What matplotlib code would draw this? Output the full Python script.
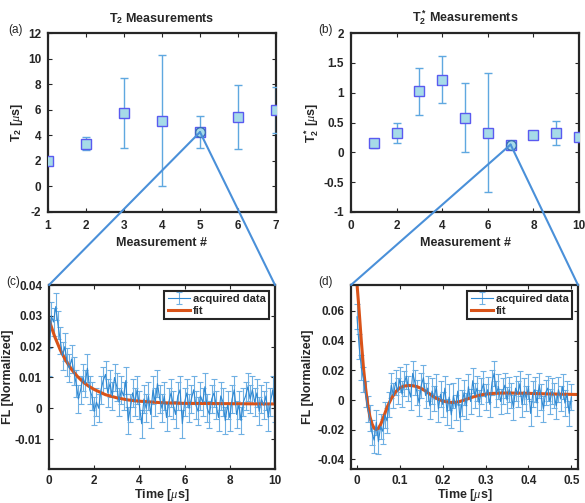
import numpy as np
import matplotlib
matplotlib.use('Agg')
import matplotlib.pyplot as plt
from matplotlib.patches import ConnectionPatch
from matplotlib.ticker import FormatStrFormatter

plt.rcParams['font.family'] = ['Liberation Sans', 'DejaVu Sans']
plt.rcParams['mathtext.fontset'] = 'custom'
plt.rcParams['mathtext.rm'] = 'Liberation Sans:bold'
plt.rcParams['mathtext.bf'] = 'Liberation Sans:bold'
plt.rcParams['mathtext.it'] = 'Liberation Serif:italic'

# ---- (a) T2 measurements
t2_meas = [1, 2, 3, 4, 5, 6, 7]
t2_vals = [2.0, 3.35, 5.75, 5.15, 4.25, 5.4, 6.0]
t2_err = [0.3, 0.5, 2.75, 5.15, 1.25, 2.5, 1.8]
t2_pick = 4  # index zoomed into panel (c)

# ---- (b) T2* measurements
t2s_meas = [1, 2, 3, 4, 5, 6, 7, 8, 9, 10]
t2s_vals = [0.15, 0.32, 1.02, 1.22, 0.58, 0.33, 0.13, 0.29, 0.33, 0.26]
t2s_err = [0.08, 0.17, 0.4, 0.4, 0.58, 1.0, 0.03, 0.07, 0.2, 0.05]
t2s_pick = 6  # index zoomed into panel (d)

# ---- (c) T2 trace, time in us
c_time = [round(0.1 * i, 1) for i in range(101)]
c_fl = [0.015, 0.030, 0.028, 0.033, 0.027, 0.022, 0.017, 0.020, 0.015, 0.013,
        0.016, 0.012, 0.008, 0.003, 0.006, 0.010, 0.008, 0.013, 0.006, 0.004,
        -0.001, 0.002, 0.000, 0.006, 0.009, 0.011, 0.005, 0.008, 0.004, 0.010,
        0.007, 0.002, 0.006, 0.004, 0.009, -0.004, 0.000, 0.005, 0.002, 0.006,
        0.001, -0.005, 0.003, 0.000, 0.004, -0.002, 0.006, 0.002, 0.008, 0.003,
        0.000, 0.004, -0.003, 0.002, 0.005, 0.001, -0.002, 0.004, 0.006, -0.005,
        0.002, 0.005, 0.000, 0.003, 0.006, 0.001, -0.001, 0.004, 0.002, 0.007,
        0.000, -0.002, 0.003, 0.005, 0.001, -0.003, 0.004, 0.002, -0.004, 0.001,
        -0.003, 0.003, 0.006, -0.002, 0.001, -0.004, 0.002, 0.004, 0.007, 0.003,
        0.006, 0.002, 0.005, -0.001, 0.003, 0.001, 0.004, -0.003, 0.002, 0.006,
        0.000]
c_err = 0.0045
c_fit_t = [0, 0.25, 0.5, 0.75, 1.0, 1.25, 1.5, 1.75, 2.0, 2.5, 3.0, 3.5, 4.0, 5.0, 6.0, 8.0, 10.0]
c_fit = [0.0287, 0.0233, 0.0189, 0.0154, 0.0126, 0.0104, 0.0086, 0.0072, 0.0061,
         0.0044, 0.0034, 0.0027, 0.0023, 0.0018, 0.0016, 0.0015, 0.0014]

# ---- (d) T2* trace, time in us
d_time = [round(0.005 * i, 3) for i in range(101)]
d_fl = [0.056, 0.036, 0.022, 0.014, 0.004, -0.006, -0.012, -0.022, -0.027, -0.015,
        -0.028, -0.018, -0.021, -0.010, -0.014, -0.003, 0.010, 0.003, 0.012, 0.006,
        0.014, 0.004, 0.011, 0.016, 0.008, 0.002, 0.018, 0.012, 0.005, -0.002,
        0.010, 0.015, 0.003, 0.008, -0.004, 0.006, 0.001, 0.009, -0.006, 0.004,
        -0.003, 0.008, -0.008, 0.002, -0.010, 0.003, -0.005, 0.006, -0.012, -0.002,
        0.005, -0.004, 0.009, -0.001, 0.013, 0.003, 0.008, -0.002, 0.006, 0.011,
        0.002, 0.007, -0.003, 0.012, 0.018, 0.004, 0.009, -0.001, 0.006, 0.010,
        0.000, 0.007, 0.003, -0.005, 0.008, 0.004, 0.011, -0.003, 0.006, 0.001,
        0.009, -0.009, 0.004, 0.007, -0.002, 0.010, 0.002, -0.006, 0.005, 0.008,
        -0.001, 0.006, 0.003, -0.004, 0.007, 0.001, 0.009, -0.002, 0.004, -0.009,
        0.002]
d_err = 0.0085
d_fit_t = [0, 0.005, 0.01, 0.015, 0.02, 0.025, 0.03, 0.035, 0.04, 0.045, 0.05, 0.055,
           0.06, 0.07, 0.08, 0.09, 0.10, 0.11, 0.12, 0.13, 0.14, 0.15, 0.16, 0.17,
           0.18, 0.19, 0.20, 0.21, 0.22, 0.23, 0.24, 0.25, 0.26, 0.27, 0.28, 0.29,
           0.30, 0.32, 0.34, 0.36, 0.40, 0.45, 0.50, 0.52]
d_fit = [0.078, 0.060, 0.040, 0.022, 0.008, -0.003, -0.011, -0.016, -0.019, -0.0198,
         -0.019, -0.0165, -0.013, -0.005, 0.001, 0.0055, 0.0082, 0.0094, 0.0098, 0.0096,
         0.009, 0.0078, 0.006, 0.004, 0.002, 0.0005, -0.0006, -0.0013, -0.0016, -0.0015,
         -0.001, 0.0, 0.001, 0.002, 0.0028, 0.0035, 0.004, 0.0045, 0.0047, 0.0047,
         0.0045, 0.0041, 0.0038, 0.0037]

W, H = 585, 503
fig = plt.figure(figsize=(W / 100, H / 100), dpi=100)


def px_axes(left, top, right, bottom):
    return fig.add_axes([left / W, 1 - bottom / H, (right - left) / W, (bottom - top) / H])


def style(ax):
    for s in ax.spines.values():
        s.set_linewidth(1.6)
        s.set_color('#262626')
    ax.tick_params(direction='in', top=True, right=True, length=3, width=0.8,
                   labelsize=8.5, colors='#262626')
    ax.tick_params(axis='x', pad=6)
    ax.tick_params(axis='y', pad=5)
    for lab in ax.get_xticklabels() + ax.get_yticklabels():
        lab.set_fontweight('bold')
    ax.xaxis.set_major_formatter(FormatStrFormatter('%g'))
    ax.yaxis.set_major_formatter(FormatStrFormatter('%g'))


bold = dict(fontsize=9, fontweight='bold', color='#262626')
mk_face = '#a6dbe8'
mk_edge = '#5a5af0'
bar_col = '#5fa8e0'
line_col = '#2f88d2'
fit_col = '#d95319'
link_col = '#4a90d9'

# (a)
ax1 = px_axes(48, 33, 276, 212)
ax1.errorbar(t2_meas, t2_vals, yerr=t2_err, fmt='s', ms=7.5, mfc=mk_face, mec=mk_edge,
             mew=1.0, ecolor=bar_col, elinewidth=1.0, capsize=3, capthick=1.0, zorder=3)
ax1.plot(t2_meas[t2_pick], t2_vals[t2_pick], 'o', ms=7, mfc=mk_face, mec='#3b6fb6',
         mew=1.0, zorder=4)
ax1.set_xlim(1, 7)
ax1.set_ylim(-2, 12)
ax1.set_xticks(range(1, 8))
ax1.set_yticks(range(-2, 13, 2))
style(ax1)
ax1.set_title(r'T$_2$ Measurements', pad=8, **bold)
ax1.set_xlabel('Measurement #', labelpad=3, **bold)
ax1.set_ylabel(r'T$_2$ [$\mu$s]', labelpad=2, **bold)

# (b)
ax2 = px_axes(351, 33, 579, 212)
ax2.errorbar(t2s_meas, t2s_vals, yerr=t2s_err, fmt='s', ms=7.5, mfc=mk_face, mec=mk_edge,
             mew=1.0, ecolor=bar_col, elinewidth=1.0, capsize=3, capthick=1.0, zorder=3)
ax2.plot(t2s_meas[t2s_pick], t2s_vals[t2s_pick], 'o', ms=7, mfc=mk_face, mec='#3b6fb6',
         mew=1.0, zorder=4)
ax2.set_xlim(0, 10)
ax2.set_ylim(-1, 2)
ax2.set_xticks(range(0, 11, 2))
ax2.set_yticks(np.arange(-1, 2.01, 0.5))
style(ax2)
ax2.set_title(r'T$_2^*$ Measurements', pad=8, **bold)
ax2.set_xlabel('Measurement #', labelpad=3, **bold)
ax2.set_ylabel(r'T$_2^*$ [$\mu$s]', labelpad=2, **bold)

# (c)
ax3 = px_axes(49, 285, 275, 469)
h_data = ax3.errorbar(c_time, c_fl, yerr=c_err, color=line_col, lw=0.8, ecolor='#6fb0e3',
                      elinewidth=0.8, capsize=2, capthick=0.8)
h_fit, = ax3.plot(c_fit_t, c_fit, color=fit_col, lw=2.2)
ax3.set_xlim(0, 10)
ax3.set_ylim(-0.0197, 0.04)
ax3.set_xticks(range(0, 11, 2))
ax3.set_yticks([-0.01, 0, 0.01, 0.02, 0.03, 0.04])
style(ax3)
ax3.tick_params(axis='x', pad=4)
ax3.set_xlabel(r'Time [$\mu$s]', labelpad=0, **bold)
ax3.set_ylabel('FL [Normalized]', labelpad=1, **bold)

# (d)
ax4 = px_axes(351, 285, 578, 469)
h_data4 = ax4.errorbar(d_time, d_fl, yerr=d_err, color=line_col, lw=0.8, ecolor='#6fb0e3',
                       elinewidth=0.8, capsize=2, capthick=0.8)
h_fit4, = ax4.plot(d_fit_t, d_fit, color=fit_col, lw=2.2)
ax4.set_xlim(-0.014, 0.5156)
ax4.set_ylim(-0.0464, 0.0774)
ax4.set_xticks([0, 0.1, 0.2, 0.3, 0.4, 0.5])
ax4.set_yticks([-0.04, -0.02, 0, 0.02, 0.04, 0.06])
style(ax4)
ax4.tick_params(axis='x', pad=4)
ax4.set_xlabel(r'Time [$\mu$s]', labelpad=0, **bold)
ax4.set_ylabel('FL [Normalized]', labelpad=2, **bold)

for ax, hd, hf in [(ax3, h_data, h_fit), (ax4, h_data4, h_fit4)]:
    leg = ax.legend([hd, hf], ['acquired data', 'fit'], loc='upper right',
                    prop=dict(size=8, weight='bold'), fancybox=False, framealpha=1,
                    edgecolor='#262626', borderpad=0.3, labelspacing=0.2,
                    handlelength=2.0, handletextpad=0.3, borderaxespad=0.5)
    leg.get_frame().set_linewidth(1.5)
    for t in leg.get_texts():
        t.set_color('#262626')

# zoom lines from the picked point to the top corners of the trace panels
for top_ax, x, y, bot_ax in [(ax1, t2_meas[t2_pick], t2_vals[t2_pick], ax3),
                             (ax2, t2s_meas[t2s_pick], t2s_vals[t2s_pick], ax4)]:
    for corner in [(0, 1), (1, 1)]:
        con = ConnectionPatch(xyA=(x, y), coordsA='data', axesA=top_ax,
                              xyB=corner, coordsB='axes fraction', axesB=bot_ax,
                              color=link_col, lw=1.5, zorder=10)
        fig.add_artist(con)

for lab, xp, yp in [('(a)', 8, 30), ('(b)', 318, 30), ('(c)', 6, 282), ('(d)', 318, 282)]:
    fig.text(xp / W, 1 - yp / H, lab, fontsize=8.5, color='#262626', va='center', ha='left')

fig.savefig('out.png', dpi=100)
